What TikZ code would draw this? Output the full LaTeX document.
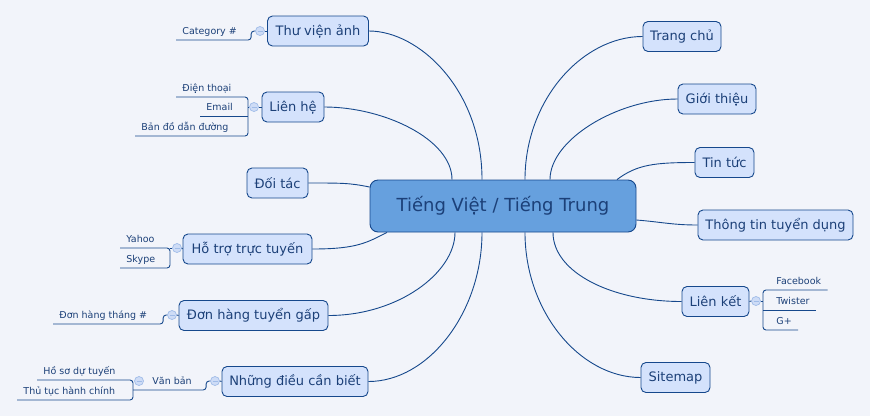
\documentclass[tikz,border=0pt]{standalone}
\usepackage{fontspec}
\setmainfont{DejaVu Sans}
\definecolor{bgc}{RGB}{242,244,250}
\definecolor{edge}{RGB}{22,72,140}
\definecolor{ink}{RGB}{28,64,120}
\definecolor{topicfill}{RGB}{212,226,252}
\definecolor{rootfill}{RGB}{102,160,222}
\definecolor{knobfill}{RGB}{206,220,246}
\definecolor{knobline}{RGB}{160,188,232}

\begin{document}
\begin{tikzpicture}[x=1pt, y=-1pt, line width=0.9pt]
    \tikzstyle{root}=[draw=edge, fill=rootfill, rounded corners=8pt, minimum width=266pt, minimum height=52pt, text=ink, font=\fontsize{18}{22}\selectfont]
    \tikzstyle{topic}=[draw=edge, fill=topicfill, rounded corners=5pt, minimum height=30pt, inner xsep=0pt, text=ink, font=\fontsize{13}{16}\selectfont]
    \tikzstyle{leaf}=[anchor=south west, inner xsep=6pt, inner ysep=0pt, text height=7pt, text depth=5.5pt, text=ink, font=\fontsize{9.5}{11}\selectfont]
    \tikzstyle{knob}=[circle, draw=knobline, fill=knobfill, line width=0.7pt, minimum size=9pt, inner sep=0pt, path picture={\draw[knobline, line width=0.7pt] ([xshift=-2.5pt]path picture bounding box.center) -- ([xshift=2.5pt]path picture bounding box.center);}]
    \tikzstyle{link}=[draw=edge, line width=0.9pt]

    \useasboundingbox (0,0) rectangle (870,416);
    \fill[bgc] (0,0) rectangle (870,416);

    \node[root] (main) at (503,206) {Tiếng Việt / Tiếng Trung};

    \node[topic, minimum width=101pt] (gallery) at (318,31) {Thư viện ảnh};
    \node[topic, minimum width=62pt] (contact) at (293,107) {Liên hệ};
    \node[topic, minimum width=61pt] (partner) at (277.5,183) {Đối tác};
    \node[topic, minimum width=129pt] (support) at (247.5,249) {Hỗ trợ trực tuyến};
    \node[topic, minimum width=149pt] (urgent) at (253.5,315.5) {Đơn hàng tuyển gấp};
    \node[topic, minimum width=146pt] (notes) at (295,381.5) {Những điều cần biết};
    \node[topic, minimum width=78pt] (home) at (682,36.5) {Trang chủ};
    \node[topic, minimum width=78pt] (about) at (717,99) {Giới thiệu};
    \node[topic, minimum width=59pt] (news) at (724.5,162.5) {Tin tức};
    \node[topic, minimum width=155pt] (jobs) at (775.5,225) {Thông tin tuyển dụng};
    \node[topic, minimum width=67pt] (links) at (715.5,301.5) {Liên kết};
    \node[topic, minimum width=69pt] (sitemap) at (675.5,377.5) {Sitemap};

    \draw[link] (gallery.east) .. controls +(50,0) and +(0,-90) .. ([xshift=-21pt]main.north);
    \draw[link] (contact.east) .. controls +(60,0) and +(0,-40) .. ([xshift=-51pt]main.north);
    \draw[link] (partner.east) .. controls +(35,0) and +(-20,-4) .. ([yshift=19pt]main.west);
    \draw[link] (support.east) .. controls +(45,0) and +(-20,10) .. ([xshift=-116pt]main.south);
    \draw[link] (urgent.east) .. controls +(70,0) and +(0,40) .. ([xshift=-48pt]main.south);
    \draw[link] (notes.east) .. controls +(60,0) and +(0,80) .. ([xshift=-21pt]main.south);
    \draw[link] ([xshift=22pt]main.north) .. controls +(0,-80) and +(-60,0) .. (home.west);
    \draw[link] ([xshift=47pt]main.north) .. controls +(0,-40) and +(-60,0) .. (about.west);
    \draw[link] ([xshift=114pt]main.north) .. controls +(20,-15) and +(-40,0) .. (news.west);
    \draw[link] ([yshift=-14pt]main.east) .. controls +(25,2) and +(-25,0) .. (jobs.west);
    \draw[link] ([xshift=50pt]main.south) .. controls +(0,40) and +(-70,0) .. (links.west);
    \draw[link] ([xshift=22pt]main.south) .. controls +(0,80) and +(-60,0) .. (sitemap.west);

    \node[knob] (kg) at (260,31) {};
    \node[knob] (kc) at (254,107) {};
    \node[knob] (ks) at (177,248) {};
    \node[knob] (ku) at (172,315) {};
    \node[knob] (kn) at (215,381) {};
    \node[knob] (kv) at (139,381) {};
    \node[knob] (kl) at (756,301) {};

    \coordinate (bc) at (248,107);
    \coordinate (bs) at (170,248);
    \coordinate (bv) at (133,390);
    \coordinate (bl) at (763,301);

    \node[leaf] (cat) at (176,40) {Category \#};
    \node[leaf] (phone) at (176,97) {Điện thoại};
    \node[leaf] (mail) at (200,116) {Email};
    \node[leaf] (map) at (135,136) {Bản đồ dẫn đường};
    \node[leaf] (yahoo) at (120,248) {Yahoo};
    \node[leaf] (skype) at (120,268) {Skype};
    \node[leaf] (order) at (53,324) {Đơn hàng tháng \#};
    \node[leaf] (docs) at (146,390) {Văn bản};
    \node[leaf] (cv) at (37,380) {Hồ sơ dự tuyến};
    \node[leaf] (proc) at (17,400) {Thủ tục hành chính};
    \node[leaf] (fb) at (770,290) {Facebook};
    \node[leaf] (tw) at (770,310) {Twister};
    \node[leaf] (gp) at (770,330) {G+};

    \draw[link] (gallery.west) -- (kg.east);
    \draw[link] (contact.west) -- (kc.east);
    \draw[link] (support.west) -- (ks.east);
    \draw[link] (urgent.west) -- (ku.east);
    \draw[link] (notes.west) -- (kn.east);
    \draw[link] (links.east) -- (kl.west);

    \draw[link, rounded corners=3pt] (cat.south west) -| ([xshift=-4pt]kg.west) -- (kg.west);
    \draw[link, rounded corners=3pt] (phone.south west) -| (bc) |- (map.south west);
    \draw[link] (mail.south west) -- (mail.south west -| bc);
    \draw[link] (bc) -- (kc.west);
    \draw[link, rounded corners=3pt] (yahoo.south west) -- (bs) |- (skype.south west);
    \draw[link] (bs) -- (ks.west);
    \draw[link, rounded corners=3pt] (order.south west) -| ([xshift=-4pt]ku.west) -- (ku.west);
    \draw[link, rounded corners=3pt] (bv) -- (docs.south west) -| ([xshift=-4pt]kn.west) -- (kn.west);
    \draw[link, rounded corners=3pt] (cv.south west) -| (bv) |- (proc.south west);
    \draw[link] (kl.east) -- (bl);
    \draw[link, rounded corners=3pt] (fb.south east) -| (bl) |- (gp.south east);
    \draw[link] (tw.south east) -- (tw.south east -| bl);
  \end{tikzpicture}
\end{document}
